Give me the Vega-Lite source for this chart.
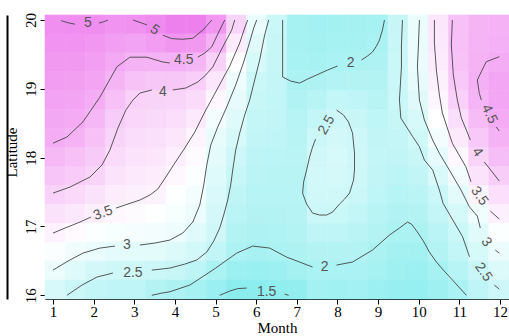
{
"$schema": "https://vega.github.io/schema/vega-lite/v6.json",
"width": 464, "height": 284,
"autosize": "none",
"padding": {"left": 45, "top": 15, "right": 0, "bottom": 37},
"background": "white",
"config": {
  "view": {"stroke": null},
  "axis": {"grid": false, "labelFont": "Liberation Serif", "labelFontSize": 15, "labelColor": "#000", "titleFont": "Liberation Serif", "titleFontSize": 15, "titleFontWeight": "normal", "titleColor": "#000", "tickColor": "#000", "domainColor": "#000", "tickSize": 5, "tickWidth": 1, "domainWidth": 1}
},
"datasets": {
"grid": [
{"c":0,"r":14,"v":4.97},{"c":0,"r":13,"v":4.90},{"c":0,"r":12,"v":4.84},{"c":0,"r":11,"v":4.76},{"c":0,"r":10,"v":4.68},{"c":0,"r":9,"v":4.60},{"c":0,"r":8,"v":4.52},{"c":0,"r":7,"v":4.35},{"c":0,"r":6,"v":4.17},{"c":0,"r":5,"v":3.97},{"c":0,"r":4,"v":3.74},{"c":0,"r":3,"v":3.50},{"c":0,"r":2,"v":3.24},{"c":0,"r":1,"v":3.00},{"c":0,"r":0,"v":2.67},
{"c":1,"r":14,"v":5.00},{"c":1,"r":13,"v":4.90},{"c":1,"r":12,"v":4.82},{"c":1,"r":11,"v":4.73},{"c":1,"r":10,"v":4.64},{"c":1,"r":9,"v":4.55},{"c":1,"r":8,"v":4.43},{"c":1,"r":7,"v":4.25},{"c":1,"r":6,"v":4.08},{"c":1,"r":5,"v":3.87},{"c":1,"r":4,"v":3.64},{"c":1,"r":3,"v":3.38},{"c":1,"r":2,"v":3.08},{"c":1,"r":1,"v":2.79},{"c":1,"r":0,"v":2.50},
{"c":2,"r":14,"v":4.99},{"c":2,"r":13,"v":4.87},{"c":2,"r":12,"v":4.75},{"c":2,"r":11,"v":4.64},{"c":2,"r":10,"v":4.52},{"c":2,"r":9,"v":4.38},{"c":2,"r":8,"v":4.25},{"c":2,"r":7,"v":4.10},{"c":2,"r":6,"v":3.95},{"c":2,"r":5,"v":3.74},{"c":2,"r":4,"v":3.52},{"c":2,"r":3,"v":3.25},{"c":2,"r":2,"v":2.97},{"c":2,"r":1,"v":2.63},{"c":2,"r":0,"v":2.35},
{"c":3,"r":14,"v":4.92},{"c":3,"r":13,"v":4.75},{"c":3,"r":12,"v":4.58},{"c":3,"r":11,"v":4.40},{"c":3,"r":10,"v":4.24},{"c":3,"r":9,"v":4.07},{"c":3,"r":8,"v":3.94},{"c":3,"r":7,"v":3.82},{"c":3,"r":6,"v":3.70},{"c":3,"r":5,"v":3.58},{"c":3,"r":4,"v":3.42},{"c":3,"r":3,"v":3.17},{"c":3,"r":2,"v":2.89},{"c":3,"r":1,"v":2.53},{"c":3,"r":0,"v":2.30},
{"c":4,"r":14,"v":4.94},{"c":4,"r":13,"v":4.68},{"c":4,"r":12,"v":4.43},{"c":4,"r":11,"v":4.20},{"c":4,"r":10,"v":3.99},{"c":4,"r":9,"v":3.90},{"c":4,"r":8,"v":3.81},{"c":4,"r":7,"v":3.72},{"c":4,"r":6,"v":3.63},{"c":4,"r":5,"v":3.53},{"c":4,"r":4,"v":3.36},{"c":4,"r":3,"v":3.14},{"c":4,"r":2,"v":2.88},{"c":4,"r":1,"v":2.53},{"c":4,"r":0,"v":2.30},
{"c":5,"r":14,"v":5.05},{"c":5,"r":13,"v":4.77},{"c":5,"r":12,"v":4.44},{"c":5,"r":11,"v":4.14},{"c":5,"r":10,"v":3.95},{"c":5,"r":9,"v":3.86},{"c":5,"r":8,"v":3.77},{"c":5,"r":7,"v":3.67},{"c":5,"r":6,"v":3.58},{"c":5,"r":5,"v":3.48},{"c":5,"r":4,"v":3.29},{"c":5,"r":3,"v":3.11},{"c":5,"r":2,"v":2.86},{"c":5,"r":1,"v":2.48},{"c":5,"r":0,"v":2.10},
{"c":6,"r":14,"v":5.20},{"c":6,"r":13,"v":4.89},{"c":6,"r":12,"v":4.47},{"c":6,"r":11,"v":4.14},{"c":6,"r":10,"v":3.93},{"c":6,"r":9,"v":3.80},{"c":6,"r":8,"v":3.67},{"c":6,"r":7,"v":3.54},{"c":6,"r":6,"v":3.42},{"c":6,"r":5,"v":3.29},{"c":6,"r":4,"v":3.16},{"c":6,"r":3,"v":3.03},{"c":6,"r":2,"v":2.75},{"c":6,"r":1,"v":2.43},{"c":6,"r":0,"v":2.00},
{"c":7,"r":14,"v":5.20},{"c":7,"r":13,"v":4.84},{"c":7,"r":12,"v":4.39},{"c":7,"r":11,"v":4.02},{"c":7,"r":10,"v":3.83},{"c":7,"r":9,"v":3.63},{"c":7,"r":8,"v":3.47},{"c":7,"r":7,"v":3.36},{"c":7,"r":6,"v":3.25},{"c":7,"r":5,"v":3.13},{"c":7,"r":4,"v":3.02},{"c":7,"r":3,"v":2.82},{"c":7,"r":2,"v":2.61},{"c":7,"r":1,"v":2.27},{"c":7,"r":0,"v":1.90},
{"c":8,"r":14,"v":4.85},{"c":8,"r":13,"v":4.45},{"c":8,"r":12,"v":3.98},{"c":8,"r":11,"v":3.68},{"c":8,"r":10,"v":3.40},{"c":8,"r":9,"v":3.12},{"c":8,"r":8,"v":2.96},{"c":8,"r":7,"v":2.88},{"c":8,"r":6,"v":2.79},{"c":8,"r":5,"v":2.70},{"c":8,"r":4,"v":2.62},{"c":8,"r":3,"v":2.54},{"c":8,"r":2,"v":2.32},{"c":8,"r":1,"v":1.98},{"c":8,"r":0,"v":1.70},
{"c":9,"r":14,"v":3.95},{"c":9,"r":13,"v":3.60},{"c":9,"r":12,"v":3.30},{"c":9,"r":11,"v":3.03},{"c":9,"r":10,"v":2.92},{"c":9,"r":9,"v":2.78},{"c":9,"r":8,"v":2.65},{"c":9,"r":7,"v":2.52},{"c":9,"r":6,"v":2.42},{"c":9,"r":5,"v":2.31},{"c":9,"r":4,"v":2.21},{"c":9,"r":3,"v":2.11},{"c":9,"r":2,"v":2.02},{"c":9,"r":1,"v":1.76},{"c":9,"r":0,"v":1.50},
{"c":10,"r":14,"v":2.98},{"c":10,"r":13,"v":2.82},{"c":10,"r":12,"v":2.66},{"c":10,"r":11,"v":2.50},{"c":10,"r":10,"v":2.45},{"c":10,"r":9,"v":2.39},{"c":10,"r":8,"v":2.33},{"c":10,"r":7,"v":2.27},{"c":10,"r":6,"v":2.22},{"c":10,"r":5,"v":2.16},{"c":10,"r":4,"v":2.10},{"c":10,"r":3,"v":2.04},{"c":10,"r":2,"v":1.93},{"c":10,"r":1,"v":1.72},{"c":10,"r":0,"v":1.50},
{"c":11,"r":14,"v":2.46},{"c":11,"r":13,"v":2.44},{"c":11,"r":12,"v":2.42},{"c":11,"r":11,"v":2.39},{"c":11,"r":10,"v":2.36},{"c":11,"r":9,"v":2.33},{"c":11,"r":8,"v":2.30},{"c":11,"r":7,"v":2.25},{"c":11,"r":6,"v":2.20},{"c":11,"r":5,"v":2.15},{"c":11,"r":4,"v":2.10},{"c":11,"r":3,"v":2.05},{"c":11,"r":2,"v":1.98},{"c":11,"r":1,"v":1.75},{"c":11,"r":0,"v":1.55},
{"c":12,"r":14,"v":1.90},{"c":12,"r":13,"v":1.92},{"c":12,"r":12,"v":1.95},{"c":12,"r":11,"v":2.00},{"c":12,"r":10,"v":2.08},{"c":12,"r":9,"v":2.15},{"c":12,"r":8,"v":2.20},{"c":12,"r":7,"v":2.21},{"c":12,"r":6,"v":2.20},{"c":12,"r":5,"v":2.18},{"c":12,"r":4,"v":2.14},{"c":12,"r":3,"v":2.10},{"c":12,"r":2,"v":2.03},{"c":12,"r":1,"v":1.88},{"c":12,"r":0,"v":1.60},
{"c":13,"r":14,"v":1.85},{"c":13,"r":13,"v":1.88},{"c":13,"r":12,"v":1.93},{"c":13,"r":11,"v":2.03},{"c":13,"r":10,"v":2.20},{"c":13,"r":9,"v":2.35},{"c":13,"r":8,"v":2.48},{"c":13,"r":7,"v":2.57},{"c":13,"r":6,"v":2.60},{"c":13,"r":5,"v":2.58},{"c":13,"r":4,"v":2.50},{"c":13,"r":3,"v":2.30},{"c":13,"r":2,"v":2.12},{"c":13,"r":1,"v":1.97},{"c":13,"r":0,"v":1.85},
{"c":14,"r":14,"v":1.87},{"c":14,"r":13,"v":1.90},{"c":14,"r":12,"v":1.97},{"c":14,"r":11,"v":2.13},{"c":14,"r":10,"v":2.35},{"c":14,"r":9,"v":2.52},{"c":14,"r":8,"v":2.60},{"c":14,"r":7,"v":2.66},{"c":14,"r":6,"v":2.64},{"c":14,"r":5,"v":2.58},{"c":14,"r":4,"v":2.46},{"c":14,"r":3,"v":2.30},{"c":14,"r":2,"v":2.12},{"c":14,"r":1,"v":1.96},{"c":14,"r":0,"v":1.82},
{"c":15,"r":14,"v":1.88},{"c":15,"r":13,"v":1.92},{"c":15,"r":12,"v":2.00},{"c":15,"r":11,"v":2.12},{"c":15,"r":10,"v":2.30},{"c":15,"r":9,"v":2.43},{"c":15,"r":8,"v":2.51},{"c":15,"r":7,"v":2.54},{"c":15,"r":6,"v":2.53},{"c":15,"r":5,"v":2.48},{"c":15,"r":4,"v":2.35},{"c":15,"r":3,"v":2.22},{"c":15,"r":2,"v":2.10},{"c":15,"r":1,"v":1.97},{"c":15,"r":0,"v":1.85},
{"c":16,"r":14,"v":1.90},{"c":16,"r":13,"v":1.97},{"c":16,"r":12,"v":2.04},{"c":16,"r":11,"v":2.12},{"c":16,"r":10,"v":2.20},{"c":16,"r":9,"v":2.28},{"c":16,"r":8,"v":2.33},{"c":16,"r":7,"v":2.35},{"c":16,"r":6,"v":2.33},{"c":16,"r":5,"v":2.28},{"c":16,"r":4,"v":2.20},{"c":16,"r":3,"v":2.10},{"c":16,"r":2,"v":1.99},{"c":16,"r":1,"v":1.90},{"c":16,"r":0,"v":1.75},
{"c":17,"r":14,"v":2.44},{"c":17,"r":13,"v":2.45},{"c":17,"r":12,"v":2.46},{"c":17,"r":11,"v":2.47},{"c":17,"r":10,"v":2.47},{"c":17,"r":9,"v":2.44},{"c":17,"r":8,"v":2.38},{"c":17,"r":7,"v":2.32},{"c":17,"r":6,"v":2.25},{"c":17,"r":5,"v":2.17},{"c":17,"r":4,"v":2.08},{"c":17,"r":3,"v":1.98},{"c":17,"r":2,"v":1.88},{"c":17,"r":1,"v":1.78},{"c":17,"r":0,"v":1.68},
{"c":18,"r":14,"v":2.97},{"c":18,"r":13,"v":2.98},{"c":18,"r":12,"v":2.98},{"c":18,"r":11,"v":2.92},{"c":18,"r":10,"v":2.82},{"c":18,"r":9,"v":2.68},{"c":18,"r":8,"v":2.55},{"c":18,"r":7,"v":2.45},{"c":18,"r":6,"v":2.34},{"c":18,"r":5,"v":2.22},{"c":18,"r":4,"v":2.10},{"c":18,"r":3,"v":1.99},{"c":18,"r":2,"v":1.87},{"c":18,"r":1,"v":1.75},{"c":18,"r":0,"v":1.65},
{"c":19,"r":14,"v":3.68},{"c":19,"r":13,"v":3.65},{"c":19,"r":12,"v":3.60},{"c":19,"r":11,"v":3.52},{"c":19,"r":10,"v":3.43},{"c":19,"r":9,"v":3.30},{"c":19,"r":8,"v":3.13},{"c":19,"r":7,"v":2.92},{"c":19,"r":6,"v":2.70},{"c":19,"r":5,"v":2.48},{"c":19,"r":4,"v":2.37},{"c":19,"r":3,"v":2.24},{"c":19,"r":2,"v":2.10},{"c":19,"r":1,"v":1.92},{"c":19,"r":0,"v":1.78},
{"c":20,"r":14,"v":4.25},{"c":20,"r":13,"v":4.23},{"c":20,"r":12,"v":4.20},{"c":20,"r":11,"v":4.12},{"c":20,"r":10,"v":4.00},{"c":20,"r":9,"v":3.80},{"c":20,"r":8,"v":3.62},{"c":20,"r":7,"v":3.40},{"c":20,"r":6,"v":3.13},{"c":20,"r":5,"v":2.88},{"c":20,"r":4,"v":2.64},{"c":20,"r":3,"v":2.46},{"c":20,"r":2,"v":2.35},{"c":20,"r":1,"v":2.17},{"c":20,"r":0,"v":1.96},
{"c":21,"r":14,"v":4.40},{"c":21,"r":13,"v":4.42},{"c":21,"r":12,"v":4.45},{"c":21,"r":11,"v":4.48},{"c":21,"r":10,"v":4.42},{"c":21,"r":9,"v":4.30},{"c":21,"r":8,"v":4.13},{"c":21,"r":7,"v":3.95},{"c":21,"r":6,"v":3.72},{"c":21,"r":5,"v":3.47},{"c":21,"r":4,"v":3.05},{"c":21,"r":3,"v":2.83},{"c":21,"r":2,"v":2.65},{"c":21,"r":1,"v":2.45},{"c":21,"r":0,"v":2.30},
{"c":22,"r":14,"v":4.43},{"c":22,"r":13,"v":4.46},{"c":22,"r":12,"v":4.53},{"c":22,"r":11,"v":4.63},{"c":22,"r":10,"v":4.63},{"c":22,"r":9,"v":4.56},{"c":22,"r":8,"v":4.45},{"c":22,"r":7,"v":4.27},{"c":22,"r":6,"v":4.04},{"c":22,"r":5,"v":3.78},{"c":22,"r":4,"v":3.54},{"c":22,"r":3,"v":3.25},{"c":22,"r":2,"v":3.00},{"c":22,"r":1,"v":2.75},{"c":22,"r":0,"v":2.52}
],
"lines": [
{"s":"5a","o":0,"m":1.20,"lat":19.99},{"s":"5a","o":1,"m":1.37,"lat":19.96},{"s":"5a","o":2,"m":1.54,"lat":19.94},
{"s":"5b","o":0,"m":2.13,"lat":19.955},{"s":"5b","o":1,"m":2.25,"lat":19.975},{"s":"5b","o":2,"m":2.35,"lat":20.0},
{"s":"5c","o":0,"m":2.97,"lat":20.0},{"s":"5c","o":1,"m":3.31,"lat":19.93},
{"s":"5d","o":0,"m":3.70,"lat":19.78},{"s":"5d","o":1,"m":3.92,"lat":19.73},{"s":"5d","o":2,"m":4.19,"lat":19.72},{"s":"5d","o":3,"m":4.44,"lat":19.735},{"s":"5d","o":4,"m":4.69,"lat":19.855},{"s":"5d","o":5,"m":4.91,"lat":20.0},
{"s":"45a","o":0,"m":1.0,"lat":18.21},{"s":"45a","o":1,"m":1.344,"lat":18.30},{"s":"45a","o":2,"m":1.737,"lat":18.52},{"s":"45a","o":3,"m":2.155,"lat":18.88},{"s":"45a","o":4,"m":2.572,"lat":19.32},{"s":"45a","o":5,"m":2.892,"lat":19.46},{"s":"45a","o":6,"m":3.31,"lat":19.46},{"s":"45a","o":7,"m":3.703,"lat":19.39},{"s":"45a","o":8,"m":3.875,"lat":19.375},
{"s":"45b","o":0,"m":4.563,"lat":19.46},{"s":"45b","o":1,"m":4.735,"lat":19.52},{"s":"45b","o":2,"m":4.907,"lat":19.61},{"s":"45b","o":3,"m":5.103,"lat":19.855},{"s":"45b","o":4,"m":5.226,"lat":20.0},
{"s":"4a","o":0,"m":1.0,"lat":17.485},{"s":"4a","o":1,"m":1.418,"lat":17.573},{"s":"4a","o":2,"m":1.909,"lat":17.718},{"s":"4a","o":3,"m":2.204,"lat":17.892},{"s":"4a","o":4,"m":2.40,"lat":18.11},{"s":"4a","o":5,"m":2.597,"lat":18.43},{"s":"4a","o":6,"m":2.794,"lat":18.692},{"s":"4a","o":7,"m":2.966,"lat":18.837},{"s":"4a","o":8,"m":3.138,"lat":18.939},{"s":"4a","o":9,"m":3.432,"lat":18.983},
{"s":"4b","o":0,"m":3.948,"lat":18.983},{"s":"4b","o":1,"m":4.268,"lat":19.012},{"s":"4b","o":2,"m":4.563,"lat":19.099},{"s":"4b","o":3,"m":4.759,"lat":19.201},{"s":"4b","o":4,"m":4.931,"lat":19.317},{"s":"4b","o":5,"m":5.177,"lat":19.608},{"s":"4b","o":6,"m":5.398,"lat":19.855},{"s":"4b","o":7,"m":5.472,"lat":20.0},
{"s":"35a","o":0,"m":1.0,"lat":16.904},{"s":"35a","o":1,"m":1.295,"lat":16.977},{"s":"35a","o":2,"m":1.663,"lat":17.064},{"s":"35a","o":3,"m":1.934,"lat":17.137},
{"s":"35b","o":0,"m":2.548,"lat":17.267},{"s":"35b","o":1,"m":2.843,"lat":17.326},{"s":"35b","o":2,"m":3.138,"lat":17.384},{"s":"35b","o":3,"m":3.383,"lat":17.456},{"s":"35b","o":4,"m":3.580,"lat":17.544},{"s":"35b","o":5,"m":3.776,"lat":17.718},{"s":"35b","o":6,"m":3.998,"lat":17.922},{"s":"35b","o":7,"m":4.243,"lat":18.140},{"s":"35b","o":8,"m":4.489,"lat":18.372},{"s":"35b","o":9,"m":4.735,"lat":18.663},{"s":"35b","o":10,"m":5.029,"lat":18.983},{"s":"35b","o":11,"m":5.349,"lat":19.331},{"s":"35b","o":12,"m":5.595,"lat":19.666},{"s":"35b","o":13,"m":5.717,"lat":19.884},{"s":"35b","o":14,"m":5.791,"lat":20.0},
{"s":"3a","o":0,"m":1.0,"lat":16.366},{"s":"3a","o":1,"m":1.369,"lat":16.497},{"s":"3a","o":2,"m":1.737,"lat":16.613},{"s":"3a","o":3,"m":2.155,"lat":16.686},{"s":"3a","o":4,"m":2.523,"lat":16.715},
{"s":"3b","o":0,"m":3.138,"lat":16.730},{"s":"3b","o":1,"m":3.506,"lat":16.759},{"s":"3b","o":2,"m":3.875,"lat":16.802},{"s":"3b","o":3,"m":4.194,"lat":16.904},{"s":"3b","o":4,"m":4.440,"lat":17.064},{"s":"3b","o":5,"m":4.612,"lat":17.311},{"s":"3b","o":6,"m":4.710,"lat":17.602},{"s":"3b","o":7,"m":4.784,"lat":17.892},{"s":"3b","o":8,"m":4.882,"lat":18.183},{"s":"3b","o":9,"m":5.054,"lat":18.445},{"s":"3b","o":10,"m":5.275,"lat":18.735},{"s":"3b","o":11,"m":5.496,"lat":19.055},{"s":"3b","o":12,"m":5.693,"lat":19.390},{"s":"3b","o":13,"m":5.840,"lat":19.680},{"s":"3b","o":14,"m":5.939,"lat":19.884},{"s":"3b","o":15,"m":6.012,"lat":20.0},
{"s":"25a","o":0,"m":1.344,"lat":16.0},{"s":"25a","o":1,"m":1.713,"lat":16.148},{"s":"25a","o":2,"m":2.081,"lat":16.265},{"s":"25a","o":3,"m":2.474,"lat":16.323},
{"s":"25b","o":0,"m":3.432,"lat":16.366},{"s":"25b","o":1,"m":3.875,"lat":16.395},{"s":"25b","o":2,"m":4.243,"lat":16.453},{"s":"25b","o":3,"m":4.538,"lat":16.512},{"s":"25b","o":4,"m":4.784,"lat":16.628},{"s":"25b","o":5,"m":4.956,"lat":16.788},{"s":"25b","o":6,"m":5.103,"lat":16.977},{"s":"25b","o":7,"m":5.201,"lat":17.166},{"s":"25b","o":8,"m":5.300,"lat":17.384},{"s":"25b","o":9,"m":5.373,"lat":17.602},{"s":"25b","o":10,"m":5.423,"lat":17.820},{"s":"25b","o":11,"m":5.496,"lat":18.110},{"s":"25b","o":12,"m":5.595,"lat":18.358},{"s":"25b","o":13,"m":5.717,"lat":18.619},{"s":"25b","o":14,"m":5.840,"lat":18.837},{"s":"25b","o":15,"m":5.963,"lat":19.128},{"s":"25b","o":16,"m":6.086,"lat":19.419},{"s":"25b","o":17,"m":6.209,"lat":19.782},{"s":"25b","o":18,"m":6.307,"lat":20.0},
{"s":"2a","o":0,"m":3.432,"lat":16.0},{"s":"2a","o":1,"m":3.678,"lat":16.032},{"s":"2a","o":2,"m":3.875,"lat":16.051},{"s":"2a","o":3,"m":4.366,"lat":16.148},{"s":"2a","o":4,"m":4.931,"lat":16.366},{"s":"2a","o":5,"m":5.521,"lat":16.613},{"s":"2a","o":6,"m":5.914,"lat":16.715},{"s":"2a","o":7,"m":6.332,"lat":16.686},{"s":"2a","o":8,"m":6.749,"lat":16.555},{"s":"2a","o":9,"m":7.069,"lat":16.483},{"s":"2a","o":10,"m":7.388,"lat":16.410},
{"s":"2b","o":0,"m":7.978,"lat":16.439},{"s":"2b","o":1,"m":8.371,"lat":16.483},{"s":"2b","o":2,"m":8.862,"lat":16.657},{"s":"2b","o":3,"m":9.280,"lat":16.875},{"s":"2b","o":4,"m":9.526,"lat":16.977},{"s":"2b","o":5,"m":9.722,"lat":17.064},{"s":"2b","o":6,"m":9.821,"lat":17.035},{"s":"2b","o":7,"m":9.968,"lat":16.919},{"s":"2b","o":8,"m":10.115,"lat":16.788},{"s":"2b","o":9,"m":10.263,"lat":16.628},{"s":"2b","o":10,"m":10.435,"lat":16.483},{"s":"2b","o":11,"m":10.607,"lat":16.366},{"s":"2b","o":12,"m":10.877,"lat":16.192},{"s":"2b","o":13,"m":11.172,"lat":16.0},
{"s":"15a","o":0,"m":5.103,"lat":16.0},{"s":"15a","o":1,"m":5.349,"lat":16.061},{"s":"15a","o":2,"m":5.545,"lat":16.097},{"s":"15a","o":3,"m":5.767,"lat":16.105},
{"s":"15b","o":0,"m":6.700,"lat":16.017},{"s":"15b","o":1,"m":6.799,"lat":16.0},
{"s":"2ta","o":0,"m":6.651,"lat":20.0},{"s":"2ta","o":1,"m":6.651,"lat":19.637},{"s":"2ta","o":2,"m":6.651,"lat":19.172},{"s":"2ta","o":3,"m":6.848,"lat":19.113},{"s":"2ta","o":4,"m":7.069,"lat":19.084},{"s":"2ta","o":5,"m":7.265,"lat":19.142},{"s":"2ta","o":6,"m":7.487,"lat":19.201},{"s":"2ta","o":7,"m":7.757,"lat":19.273},{"s":"2ta","o":8,"m":8.002,"lat":19.331},
{"s":"2tb","o":0,"m":8.592,"lat":19.419},{"s":"2tb","o":1,"m":8.740,"lat":19.477},{"s":"2tb","o":2,"m":8.862,"lat":19.535},{"s":"2tb","o":3,"m":8.961,"lat":19.622},{"s":"2tb","o":4,"m":9.034,"lat":19.709},{"s":"2tb","o":5,"m":9.108,"lat":19.855},{"s":"2tb","o":6,"m":9.157,"lat":20.0},
{"s":"loop","o":0,"m":7.978,"lat":18.692},{"s":"loop","o":1,"m":8.150,"lat":18.619},{"s":"loop","o":2,"m":8.273,"lat":18.517},{"s":"loop","o":3,"m":8.371,"lat":18.358},{"s":"loop","o":4,"m":8.420,"lat":18.067},{"s":"loop","o":5,"m":8.420,"lat":17.820},{"s":"loop","o":6,"m":8.396,"lat":17.674},{"s":"loop","o":7,"m":8.298,"lat":17.485},{"s":"loop","o":8,"m":8.175,"lat":17.398},{"s":"loop","o":9,"m":8.052,"lat":17.326},{"s":"loop","o":10,"m":7.880,"lat":17.209},{"s":"loop","o":11,"m":7.732,"lat":17.166},{"s":"loop","o":12,"m":7.560,"lat":17.166},{"s":"loop","o":13,"m":7.388,"lat":17.195},{"s":"loop","o":14,"m":7.241,"lat":17.326},{"s":"loop","o":15,"m":7.143,"lat":17.485},{"s":"loop","o":16,"m":7.167,"lat":17.645},{"s":"loop","o":17,"m":7.241,"lat":17.820},{"s":"loop","o":18,"m":7.314,"lat":18.009},{"s":"loop","o":19,"m":7.388,"lat":18.154},{"s":"loop","o":20,"m":7.462,"lat":18.270},
{"s":"25ra","o":0,"m":9.600,"lat":20.0},{"s":"25ra","o":1,"m":9.575,"lat":19.637},{"s":"25ra","o":2,"m":9.575,"lat":19.317},{"s":"25ra","o":3,"m":9.526,"lat":18.837},{"s":"25ra","o":4,"m":9.560,"lat":18.576},{"s":"25ra","o":5,"m":9.853,"lat":18.304},{"s":"25ra","o":6,"m":10.017,"lat":18.159},{"s":"25ra","o":7,"m":10.140,"lat":17.965},{"s":"25ra","o":8,"m":10.344,"lat":17.820},{"s":"25ra","o":9,"m":10.509,"lat":17.529},{"s":"25ra","o":10,"m":10.600,"lat":17.336},{"s":"25ra","o":11,"m":10.840,"lat":17.093},{"s":"25ra","o":12,"m":11.080,"lat":16.850},{"s":"25ra","o":13,"m":11.250,"lat":16.560},
{"s":"25rb","o":0,"m":11.860,"lat":16.148},{"s":"25rb","o":1,"m":11.983,"lat":16.09},
{"s":"3ra","o":0,"m":10.017,"lat":20.0},{"s":"3ra","o":1,"m":9.993,"lat":19.637},{"s":"3ra","o":2,"m":9.968,"lat":19.317},{"s":"3ra","o":3,"m":10.017,"lat":18.837},{"s":"3ra","o":4,"m":10.140,"lat":18.547},{"s":"3ra","o":5,"m":10.343,"lat":18.256},{"s":"3ra","o":6,"m":10.509,"lat":18.062},{"s":"3ra","o":7,"m":10.754,"lat":17.820},{"s":"3ra","o":8,"m":11.041,"lat":17.529},{"s":"3ra","o":9,"m":11.246,"lat":17.287},{"s":"3ra","o":10,"m":11.442,"lat":17.151},{"s":"3ra","o":11,"m":11.516,"lat":16.977},
{"s":"3rb","o":0,"m":11.885,"lat":16.657},{"s":"3rb","o":1,"m":11.983,"lat":16.613},
{"s":"35ra","o":0,"m":10.386,"lat":20.0},{"s":"35ra","o":1,"m":10.386,"lat":19.666},{"s":"35ra","o":2,"m":10.435,"lat":19.273},{"s":"35ra","o":3,"m":10.509,"lat":18.910},{"s":"35ra","o":4,"m":10.582,"lat":18.650},{"s":"35ra","o":5,"m":10.828,"lat":18.208},{"s":"35ra","o":6,"m":11.160,"lat":17.868},{"s":"35ra","o":7,"m":11.287,"lat":17.650},
{"s":"35rb","o":0,"m":11.762,"lat":17.224},{"s":"35rb","o":1,"m":11.983,"lat":17.108},
{"s":"4ra","o":0,"m":10.828,"lat":20.0},{"s":"4ra","o":1,"m":10.803,"lat":19.637},{"s":"4ra","o":2,"m":10.852,"lat":19.201},{"s":"4ra","o":3,"m":10.951,"lat":18.837},{"s":"4ra","o":4,"m":11.049,"lat":18.576},{"s":"4ra","o":5,"m":11.172,"lat":18.401},{"s":"4ra","o":6,"m":11.270,"lat":18.256},
{"s":"4rb","o":0,"m":11.614,"lat":17.936},{"s":"4rb","o":1,"m":11.811,"lat":17.791},{"s":"4rb","o":2,"m":11.983,"lat":17.660},
{"s":"45ra","o":0,"m":11.983,"lat":19.467},{"s":"45ra","o":1,"m":11.663,"lat":19.394},{"s":"45ra","o":2,"m":11.541,"lat":19.249},{"s":"45ra","o":3,"m":11.442,"lat":19.128},{"s":"45ra","o":4,"m":11.491,"lat":18.935},{"s":"45ra","o":5,"m":11.541,"lat":18.837},
{"s":"45rb","o":0,"m":11.909,"lat":18.445},{"s":"45rb","o":1,"m":11.983,"lat":18.387}
],
"labels": [
{"t":"5","g":"h","m":1.860,"lat":19.964},
{"t":"4.5","g":"h","m":4.219,"lat":19.419},
{"t":"4","g":"h","m":3.703,"lat":18.953},
{"t":"3","g":"h","m":2.818,"lat":16.730},
{"t":"2.5","g":"h","m":2.966,"lat":16.323},
{"t":"2","g":"h","m":7.683,"lat":16.410},
{"t":"1.5","g":"h","m":6.258,"lat":16.047},
{"t":"2","g":"h","m":8.322,"lat":19.375},
{"t":"3.5","g":"a","m":2.229,"lat":17.195},
{"t":"5","g":"b","m":3.506,"lat":19.855},
{"t":"2.5","g":"c","m":7.732,"lat":18.474},
{"t":"4","g":"d","m":11.442,"lat":18.081},
{"t":"3.5","g":"d","m":11.491,"lat":17.442},
{"t":"3","g":"d","m":11.663,"lat":16.773},
{"t":"2.5","g":"d","m":11.590,"lat":16.337},
{"t":"4.5","g":"e","m":11.737,"lat":18.634}
]
},
"layer": [
{
  "data": {"name": "grid"},
  "mark": {"type": "rect", "strokeWidth": 0.6},
  "encoding": {
    "x": {"field": "c", "type": "ordinal", "axis": null, "scale": {"paddingInner": 0, "paddingOuter": 0}},
    "y": {"field": "r", "type": "ordinal", "sort": "descending", "scale": {"paddingInner": 0, "paddingOuter": 0},
          "axis": {"orient": "left", "offset": 38, "labels": false, "ticks": false, "title": null, "domainColor": "#000", "domainWidth": 2}},
    "color": {"field": "v", "type": "quantitative", "legend": null, "scale": {"domain": [1.4, 3.3, 5.2], "range": ["#86ecee", "#ffffff", "#ee80ee"], "interpolate": "rgb"}},
    "stroke": {"field": "v", "type": "quantitative", "legend": null, "scale": {"domain": [1.4, 3.3, 5.2], "range": ["#86ecee", "#ffffff", "#ee80ee"], "interpolate": "rgb"}}
  }
},
{
  "layer": [
    {
      "data": {"name": "lines"},
      "mark": {"type": "line", "color": "#454545", "strokeWidth": 0.9},
      "encoding": {
        "x": {"field": "m", "type": "quantitative", "scale": {"domain": [0.803, 12.222], "nice": false, "zero": false},
              "axis": {"values": [1,2,3,4,5,6,7,8,9,10,11,12], "format": "d", "title": "Month", "labelFlush": false, "labelOverlap": false, "labelPadding": 12, "labelBaseline": "alphabetic", "titleX": 232, "titleY": 33, "titleBaseline": "alphabetic"}},
        "y": {"field": "lat", "type": "quantitative", "scale": {"domain": [15.946, 20.073], "nice": false, "zero": false},
              "axis": {"orient": "left", "values": [16,17,18,19,20], "format": "d", "title": "Latitude", "labelAngle": -90, "labelAlign": "center", "labelBaseline": "alphabetic", "labelPadding": 5, "labelFlush": false, "labelOverlap": false, "titleAngle": -90, "titleX": -34, "titleY": 137, "titleBaseline": "middle", "titleAlign": "center"}},
        "detail": {"field": "s"},
        "order": {"field": "o"}
      }
    },
    {
      "data": {"name": "labels"},
      "transform": [{"filter": "datum.g === 'h'"}],
      "mark": {"type": "text", "angle": 0, "font": "Liberation Sans", "fontSize": 14, "color": "#555555", "align": "center", "baseline": "middle"},
      "encoding": {"x": {"field": "m", "type": "quantitative"}, "y": {"field": "lat", "type": "quantitative"}, "text": {"field": "t"}}
    },
    {
      "data": {"name": "labels"},
      "transform": [{"filter": "datum.g === 'a'"}],
      "mark": {"type": "text", "angle": -20, "font": "Liberation Sans", "fontSize": 14, "color": "#555555", "align": "center", "baseline": "middle"},
      "encoding": {"x": {"field": "m", "type": "quantitative"}, "y": {"field": "lat", "type": "quantitative"}, "text": {"field": "t"}}
    },
    {
      "data": {"name": "labels"},
      "transform": [{"filter": "datum.g === 'b'"}],
      "mark": {"type": "text", "angle": 35, "font": "Liberation Sans", "fontSize": 14, "color": "#555555", "align": "center", "baseline": "middle"},
      "encoding": {"x": {"field": "m", "type": "quantitative"}, "y": {"field": "lat", "type": "quantitative"}, "text": {"field": "t"}}
    },
    {
      "data": {"name": "labels"},
      "transform": [{"filter": "datum.g === 'c'"}],
      "mark": {"type": "text", "angle": -60, "font": "Liberation Sans", "fontSize": 14, "color": "#555555", "align": "center", "baseline": "middle"},
      "encoding": {"x": {"field": "m", "type": "quantitative"}, "y": {"field": "lat", "type": "quantitative"}, "text": {"field": "t"}}
    },
    {
      "data": {"name": "labels"},
      "transform": [{"filter": "datum.g === 'd'"}],
      "mark": {"type": "text", "angle": 55, "font": "Liberation Sans", "fontSize": 14, "color": "#555555", "align": "center", "baseline": "middle"},
      "encoding": {"x": {"field": "m", "type": "quantitative"}, "y": {"field": "lat", "type": "quantitative"}, "text": {"field": "t"}}
    },
    {
      "data": {"name": "labels"},
      "transform": [{"filter": "datum.g === 'e'"}],
      "mark": {"type": "text", "angle": 65, "font": "Liberation Sans", "fontSize": 14, "color": "#555555", "align": "center", "baseline": "middle"},
      "encoding": {"x": {"field": "m", "type": "quantitative"}, "y": {"field": "lat", "type": "quantitative"}, "text": {"field": "t"}}
    }
  ]
}
],
"resolve": {"scale": {"x": "independent", "y": "independent"}}
}
